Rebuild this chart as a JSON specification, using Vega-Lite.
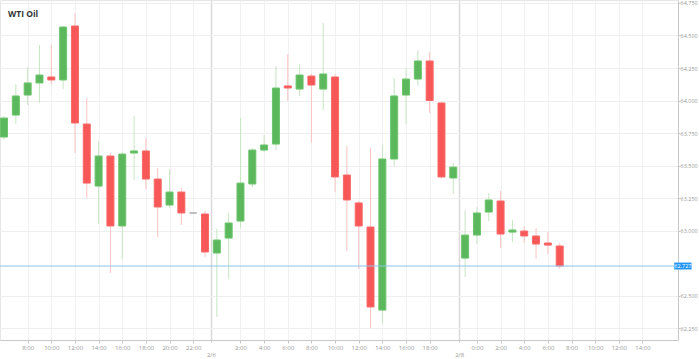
{
  "$schema": "https://vega.github.io/schema/vega-lite/v6.json",
  "width": 678,
  "height": 340,
  "autosize": "none",
  "padding": {"left": 0, "top": 0, "right": 21, "bottom": 19},
  "background": "white",
  "title": {"text": "WTI Oil", "anchor": "start", "frame": "group", "orient": "top", "baseline": "top", "offset": -18, "dx": 8, "fontSize": 8.5, "fontWeight": "bold", "color": "#333333", "font": "Open Sans"},
  "config": {
    "view": {"stroke": "#e6e6e6"},
    "font": "Open Sans",
    "axis": {"labelFont": "Open Sans", "labelColor": "#999999", "domainColor": "#c8c8c8", "tickColor": "#c8c8c8", "labelOverlap": false, "labelFlush": false}
  },
  "resolve": {"axis": {"x": "independent", "y": "independent"}},
  "data": {"values": [
    {"t": 1, "open": 63.719, "high": 63.880, "low": 63.700, "close": 63.865},
    {"t": 2, "open": 63.888, "high": 64.127, "low": 63.819, "close": 64.035},
    {"t": 3, "open": 64.042, "high": 64.258, "low": 63.965, "close": 64.135},
    {"t": 4, "open": 64.135, "high": 64.427, "low": 63.981, "close": 64.196},
    {"t": 5, "open": 64.181, "high": 64.427, "low": 64.127, "close": 64.158},
    {"t": 6, "open": 64.158, "high": 64.570, "low": 64.088, "close": 64.565},
    {"t": 7, "open": 64.573, "high": 64.673, "low": 63.596, "close": 63.827},
    {"t": 8, "open": 63.819, "high": 64.019, "low": 63.250, "close": 63.365},
    {"t": 9, "open": 63.342, "high": 63.688, "low": 63.050, "close": 63.573},
    {"t": 10, "open": 63.573, "high": 63.596, "low": 62.673, "close": 63.035},
    {"t": 11, "open": 63.035, "high": 63.604, "low": 62.781, "close": 63.588},
    {"t": 12, "open": 63.596, "high": 63.881, "low": 63.388, "close": 63.612},
    {"t": 13, "open": 63.612, "high": 63.712, "low": 63.319, "close": 63.396},
    {"t": 14, "open": 63.396, "high": 63.481, "low": 62.950, "close": 63.181},
    {"t": 15, "open": 63.196, "high": 63.473, "low": 63.173, "close": 63.296},
    {"t": 16, "open": 63.296, "high": 63.327, "low": 63.042, "close": 63.135},
    {"t": 17, "open": 63.135, "high": 63.135, "low": 63.135, "close": 63.135},
    {"t": 18, "open": 63.127, "high": 63.150, "low": 62.796, "close": 62.835},
    {"t": 19, "open": 62.827, "high": 63.012, "low": 62.335, "close": 62.927},
    {"t": 20, "open": 62.942, "high": 63.135, "low": 62.627, "close": 63.058},
    {"t": 21, "open": 63.073, "high": 63.865, "low": 63.019, "close": 63.365},
    {"t": 22, "open": 63.358, "high": 63.635, "low": 63.335, "close": 63.619},
    {"t": 23, "open": 63.619, "high": 63.735, "low": 63.604, "close": 63.658},
    {"t": 24, "open": 63.665, "high": 64.265, "low": 63.619, "close": 64.096},
    {"t": 25, "open": 64.112, "high": 64.358, "low": 63.996, "close": 64.096},
    {"t": 26, "open": 64.088, "high": 64.281, "low": 64.035, "close": 64.196},
    {"t": 27, "open": 64.188, "high": 64.204, "low": 63.673, "close": 64.119},
    {"t": 28, "open": 64.088, "high": 64.596, "low": 63.927, "close": 64.204},
    {"t": 29, "open": 64.181, "high": 64.204, "low": 63.296, "close": 63.412},
    {"t": 30, "open": 63.427, "high": 63.650, "low": 62.842, "close": 63.235},
    {"t": 31, "open": 63.212, "high": 63.227, "low": 62.704, "close": 63.035},
    {"t": 32, "open": 63.027, "high": 63.635, "low": 62.250, "close": 62.412},
    {"t": 33, "open": 62.388, "high": 63.658, "low": 62.281, "close": 63.550},
    {"t": 34, "open": 63.550, "high": 64.173, "low": 63.496, "close": 64.035},
    {"t": 35, "open": 64.042, "high": 64.250, "low": 63.819, "close": 64.165},
    {"t": 36, "open": 64.165, "high": 64.388, "low": 64.112, "close": 64.304},
    {"t": 37, "open": 64.304, "high": 64.373, "low": 63.904, "close": 64.000},
    {"t": 38, "open": 63.981, "high": 63.990, "low": 63.400, "close": 63.412},
    {"t": 39, "open": 63.404, "high": 63.519, "low": 63.281, "close": 63.488},
    {"t": 40, "open": 62.788, "high": 63.158, "low": 62.642, "close": 62.965},
    {"t": 41, "open": 62.965, "high": 63.181, "low": 62.896, "close": 63.135},
    {"t": 42, "open": 63.142, "high": 63.288, "low": 63.073, "close": 63.235},
    {"t": 43, "open": 63.227, "high": 63.304, "low": 62.865, "close": 62.973},
    {"t": 44, "open": 62.988, "high": 63.081, "low": 62.912, "close": 63.004},
    {"t": 45, "open": 62.996, "high": 63.035, "low": 62.904, "close": 62.958},
    {"t": 46, "open": 62.958, "high": 63.019, "low": 62.781, "close": 62.896},
    {"t": 47, "open": 62.904, "high": 62.988, "low": 62.819, "close": 62.888},
    {"t": 48, "open": 62.881, "high": 62.904, "low": 62.704, "close": 62.727}
  ]},
  "layer": [
    {
      "mark": {"type": "rule", "clip": true, "strokeWidth": 1},
      "encoding": {
        "x": {"field": "t", "type": "quantitative", "title": null,
          "scale": {"domain": [1.0833, 57.583], "nice": false, "zero": false},
          "axis": {
            "values": [3, 5, 7, 9, 11, 13, 15, 17, 18.5, 21, 23, 25, 27, 29, 31, 33, 35, 37, 39.5, 41, 43, 45, 47, 49, 51, 53, 55],
            "labelExpr": "datum.value == 18.5 ? [' ', '2/6'] : datum.value == 39.5 ? [' ', '2/8'] : datum.value < 18.5 ? (datum.value + 5) + ':00' : datum.value < 39.5 ? (datum.value - 19) + ':00' : (datum.value - 41) + ':00'",
            "labelFontSize": 6, "labelLineHeight": 7.5, "labelPadding": 1, "labelFlush": false, "labelOverlap": false,
            "tickSize": 3,
            "tickDash": {"condition": {"test": "datum.value == 18.5 || datum.value == 39.5", "value": [2, 1]}, "value": []},
            "grid": true,
            "gridColor": {"condition": {"test": "datum.value == 18.5 || datum.value == 39.5", "value": "#dadada"}, "value": "#f1f1f1"},
            "gridWidth": {"condition": {"test": "datum.value == 18.5 || datum.value == 39.5", "value": 1.5}, "value": 1}
          }},
        "y": {"field": "low", "type": "quantitative", "title": null,
          "scale": {"domain": [62.158, 64.773], "nice": false, "zero": false},
          "axis": {"orient": "right", "values": [62.25, 62.5, 63, 63.25, 63.5, 63.75, 64, 64.25, 64.5, 64.75],
            "format": ".3f", "labelFontSize": 5.5, "labelPadding": 0, "tickSize": 2, "grid": true, "gridColor": "#efefef", "labelFlush": false, "labelOverlap": false}},
        "y2": {"field": "high"},
        "color": {"condition": [
          {"test": "datum.close > datum.open", "value": "#c6e7c1"},
          {"test": "datum.close < datum.open", "value": "#fbc3c3"}
        ], "value": "#cccccc"}
      }
    },
    {
      "mark": {"type": "bar", "clip": true, "size": 7, "strokeWidth": 1, "orient": "vertical"},
      "encoding": {
        "x": {"field": "t", "type": "quantitative", "title": null, "axis": null,
          "scale": {"domain": [1.0833, 57.583], "nice": false, "zero": false}},
        "y": {"field": "open", "type": "quantitative", "title": null, "axis": null,
          "scale": {"domain": [62.158, 64.773], "nice": false, "zero": false}},
        "y2": {"field": "close"},
        "fill": {"condition": [
          {"test": "datum.close > datum.open", "value": "#5cb85c"},
          {"test": "datum.close < datum.open", "value": "#f75757"}
        ], "value": "#aaaaaa"},
        "stroke": {"condition": [
          {"test": "datum.close > datum.open", "value": "#6cc46c"},
          {"test": "datum.close < datum.open", "value": "#f86a6a"}
        ], "value": "#aaaaaa"}
      }
    },
    {
      "transform": [{"filter": "datum.t == 48"}],
      "mark": {"type": "rule", "color": "#8cc4ef", "strokeWidth": 1},
      "encoding": {
        "y": {"field": "close", "type": "quantitative", "title": null, "axis": null,
          "scale": {"domain": [62.158, 64.773], "nice": false, "zero": false}}
      }
    },
    {
      "transform": [{"filter": "datum.t == 48"}],
      "mark": {"type": "point", "filled": true, "opacity": 1, "clip": false, "shape": "M-1,-0.4H1V0.4H-1Z", "size": 300, "color": "#2196f3"},
      "encoding": {
        "x": {"datum": 58.42, "type": "quantitative", "title": null, "axis": null,
          "scale": {"domain": [1.0833, 57.583], "nice": false, "zero": false}},
        "y": {"field": "close", "type": "quantitative", "title": null, "axis": null,
          "scale": {"domain": [62.158, 64.773], "nice": false, "zero": false}}
      }
    },
    {
      "transform": [{"filter": "datum.t == 48"}],
      "mark": {"type": "text", "clip": false, "color": "white", "fontSize": 5.5, "align": "center", "baseline": "middle", "font": "Open Sans"},
      "encoding": {
        "x": {"datum": 58.42, "type": "quantitative", "title": null, "axis": null,
          "scale": {"domain": [1.0833, 57.583], "nice": false, "zero": false}},
        "y": {"field": "close", "type": "quantitative", "title": null, "axis": null,
          "scale": {"domain": [62.158, 64.773], "nice": false, "zero": false}},
        "text": {"field": "close", "type": "quantitative", "format": ".3f"}
      }
    }
  ]
}
